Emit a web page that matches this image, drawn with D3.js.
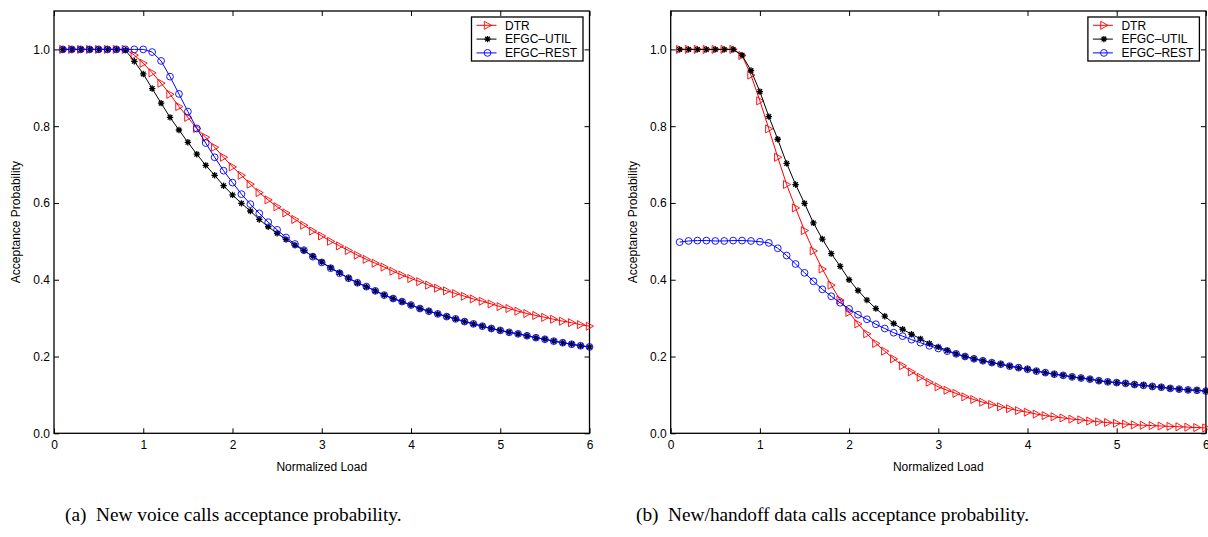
<!DOCTYPE html>
<html>
<head>
<meta charset="utf-8">
<script src="https://cdn.jsdelivr.net/npm/d3@7"></script>
<style>
body{margin:0;background:#fff}
svg text{font-family:"Liberation Sans",Arial,Helvetica,sans-serif}
.caption{font-family:"Liberation Serif","Times New Roman",serif;font-size:19.3px;white-space:pre}
</style>
</head>
<body>
<svg id="fig" width="1208" height="537"></svg>
<script>
// normalized load values (x)
var loads = [0.1,0.2,0.3,0.4,0.5,0.6,0.7,0.8,0.9,1.0,
             1.1,1.2,1.3,1.4,1.5,1.6,1.7,1.8,1.9,2.0,
             2.1,2.2,2.3,2.4,2.5,2.6,2.7,2.8,2.9,3.0,
             3.1,3.2,3.3,3.4,3.5,3.6,3.7,3.8,3.9,4.0,
             4.1,4.2,4.3,4.4,4.5,4.6,4.7,4.8,4.9,5.0,
             5.1,5.2,5.3,5.4,5.5,5.6,5.7,5.8,5.9,6.0]

// (a) new voice calls
var voiceDTR = [1.0,1.0,1.0,1.0,1.0,1.0,1.0,1.0,0.985,0.964,
                0.939,0.912,0.883,0.851,0.823,0.794,0.771,0.745,0.719,0.694,
                0.672,0.649,0.627,0.608,0.590,0.574,0.557,0.542,0.527,0.514,
                0.500,0.488,0.476,0.464,0.453,0.443,0.433,0.422,0.412,0.403,
                0.395,0.386,0.378,0.371,0.364,0.357,0.350,0.344,0.337,0.330,
                0.325,0.318,0.312,0.307,0.302,0.297,0.292,0.288,0.283,0.279]
var voiceUTIL = [1.0,1.0,1.0,1.0,1.0,1.0,1.0,0.998,0.969,0.936,
                 0.898,0.860,0.823,0.790,0.758,0.727,0.698,0.672,0.645,0.621,
                 0.599,0.579,0.557,0.538,0.521,0.505,0.490,0.476,0.461,0.446,
                 0.431,0.418,0.404,0.392,0.382,0.371,0.360,0.351,0.343,0.334,
                 0.325,0.318,0.311,0.304,0.298,0.291,0.285,0.279,0.273,0.268,
                 0.263,0.259,0.254,0.249,0.245,0.240,0.236,0.232,0.228,0.225]
var voiceREST = [1.0,1.0,1.0,1.0,1.0,1.0,1.0,1.0,1.0,1.0,
                 0.993,0.970,0.929,0.884,0.838,0.794,0.756,0.719,0.684,0.653,
                 0.623,0.597,0.573,0.550,0.530,0.510,0.493,0.477,0.460,0.445,
                 0.430,0.417,0.404,0.392,0.382,0.371,0.360,0.351,0.343,0.334,
                 0.325,0.318,0.311,0.304,0.298,0.291,0.285,0.279,0.273,0.268,
                 0.263,0.259,0.254,0.249,0.245,0.240,0.236,0.232,0.228,0.225]

// (b) new/handoff data calls
var dataDTR = [1.0,1.0,1.0,1.0,1.0,1.0,1.0,0.984,0.933,0.866,
               0.793,0.719,0.648,0.587,0.528,0.475,0.428,0.386,0.347,0.315,
               0.285,0.259,0.234,0.214,0.194,0.176,0.160,0.146,0.133,0.121,
               0.112,0.104,0.095,0.088,0.081,0.075,0.069,0.064,0.059,0.055,
               0.050,0.046,0.043,0.040,0.037,0.035,0.032,0.030,0.028,0.026,
               0.024,0.022,0.021,0.020,0.019,0.018,0.017,0.016,0.015,0.014]
var dataUTIL = [1.0,1.0,1.0,1.0,1.0,1.0,1.0,0.985,0.945,0.890,
                0.825,0.766,0.703,0.648,0.599,0.548,0.506,0.468,0.435,0.400,
                0.372,0.347,0.325,0.305,0.286,0.271,0.258,0.246,0.234,0.225,
                0.216,0.207,0.200,0.194,0.189,0.184,0.180,0.175,0.171,0.167,
                0.162,0.158,0.154,0.151,0.147,0.144,0.141,0.137,0.134,0.132,
                0.130,0.127,0.125,0.122,0.120,0.117,0.115,0.113,0.112,0.110]
var dataREST = [0.498,0.501,0.502,0.502,0.501,0.501,0.502,0.502,0.501,0.499,
                0.496,0.482,0.463,0.441,0.418,0.396,0.375,0.357,0.340,0.324,
                0.309,0.297,0.284,0.273,0.262,0.253,0.244,0.236,0.228,0.221,
                0.214,0.207,0.200,0.194,0.189,0.184,0.180,0.175,0.171,0.167,
                0.162,0.158,0.154,0.151,0.147,0.144,0.141,0.137,0.134,0.132,
                0.130,0.127,0.125,0.122,0.120,0.117,0.115,0.113,0.112,0.110]

var xTicks = [0,1,2,3,4,5,6]
var yTicks = [0,0.2,0.4,0.6,0.8,1.0]
var seriesNames = ["DTR","EFGC\u2013UTIL","EFGC\u2013REST"]
var seriesColors = ["#ff0000","#000000","#0000ff"]
var seriesMarkers = ["tri","star","circle"]
var xLabel = "Normalized Load"
var yLabel = "Acceptance Probability"
var captions = ["(a)  New voice calls acceptance probability.",
                "(b)  New/handoff data calls acceptance probability."]

var svg = d3.select("#fig")
svg.append("rect").attr("width",1208).attr("height",537).attr("fill","#fff")

// marker shapes
var markerPath = {
    tri:"M-3.2,-4L4,0L-3.2,4Z",
    star:"M-3.2,0H3.2M0,-3.2V3.2M-2.3,-2.3L2.3,2.3M-2.3,2.3L2.3,-2.3",
    circle:"M3.4,0A3.4,3.4 0 1 1 -3.4,0A3.4,3.4 0 1 1 3.4,0Z"
}

var drawPanel = function(box, seriesValues, caption){
    var xScale = d3.scaleLinear().domain([0,6]).range([box.left,box.right])
    var yScale = d3.scaleLinear().domain([0,1.1]).range([box.bottom,box.top])

    var g = svg.append("g")

    // axes with ticks inside the box
    var bottom = g.append("g")
        .attr("transform","translate(0,"+box.bottom+")")
        .call(d3.axisBottom(xScale).tickValues(xTicks).tickSizeInner(-5).tickSizeOuter(0).tickPadding(7).tickFormat(d3.format("d")))
    var top = g.append("g")
        .attr("transform","translate(0,"+box.top+")")
        .call(d3.axisTop(xScale).tickValues(xTicks).tickSizeInner(-5).tickSizeOuter(0).tickFormat(""))
    var left = g.append("g")
        .attr("transform","translate("+box.left+",0)")
        .call(d3.axisLeft(yScale).tickValues(yTicks).tickSizeInner(-5).tickSizeOuter(0).tickPadding(4).tickFormat(d3.format(".1f")))
    var right = g.append("g")
        .attr("transform","translate("+box.right+",0)")
        .call(d3.axisRight(yScale).tickValues(yTicks).tickSizeInner(-5).tickSizeOuter(0).tickFormat(""))

    ;[bottom,top,left,right].forEach(function(a){
        a.select(".domain").remove()
        a.selectAll("line").attr("stroke","#000").attr("stroke-width",1)
        a.selectAll("text").attr("font-size",12).attr("fill","#000")
            .attr("font-family","'Liberation Sans',Arial,sans-serif")
    })

    g.append("rect")
        .attr("x",box.left).attr("y",box.top)
        .attr("width",box.right-box.left).attr("height",box.bottom-box.top)
        .attr("fill","none").attr("stroke","#000").attr("stroke-width",1.3)

    // series
    var line = d3.line()
        .x(function(d){return xScale(d[0])})
        .y(function(d){return yScale(d[1])})

    seriesValues.forEach(function(vals,i){
        var pts = loads.map(function(x,j){return [x,vals[j]]})
        var s = g.append("g")
        s.append("path")
            .attr("d",line(pts))
            .attr("fill","none")
            .attr("stroke",seriesColors[i])
            .attr("stroke-width",1)
        s.selectAll("path.mk")
            .data(pts)
            .enter()
            .append("path")
            .classed("mk",true)
            .attr("d",markerPath[seriesMarkers[i]])
            .attr("transform",function(d){return "translate("+xScale(d[0])+","+yScale(d[1])+")"})
            .attr("fill","none")
            .attr("stroke",seriesColors[i])
            .attr("stroke-width",seriesMarkers[i]=="star"?1.3:0.9)
    })

    // labels
    g.append("text")
        .text(xLabel)
        .attr("x",(box.left+box.right)/2)
        .attr("y",470.5)
        .attr("text-anchor","middle")
        .attr("font-size",12)
    g.append("text")
        .text(yLabel)
        .attr("transform","translate("+(box.left-34)+","+((box.top+box.bottom)/2)+") rotate(-90)")
        .attr("text-anchor","middle")
        .attr("font-size",12)

    // legend
    var lx = box.right-118, ly = 17
    var legend = g.append("g").attr("transform","translate("+lx+","+ly+")")
    legend.append("rect")
        .attr("width",111.5).attr("height",44)
        .attr("fill","#fff").attr("stroke","#000").attr("stroke-width",1.3)
    var entries = legend.selectAll("g")
        .data(seriesNames)
        .enter()
        .append("g")
        .attr("transform",function(d,i){return "translate(0,"+(8.3+i*13.8)+")"})
    entries.append("line")
        .attr("x1",5).attr("x2",25)
        .attr("stroke",function(d,i){return seriesColors[i]})
        .attr("stroke-width",1)
    entries.append("path")
        .attr("d",function(d,i){return markerPath[seriesMarkers[i]]})
        .attr("transform","translate(16,0)")
        .attr("fill","none")
        .attr("stroke",function(d,i){return seriesColors[i]})
        .attr("stroke-width",function(d,i){return seriesMarkers[i]=="star"?1.3:0.9})
    entries.append("text")
        .text(function(d){return d})
        .attr("x",33.5)
        .attr("y",4.3)
        .attr("font-size",12)

    svg.append("text")
        .classed("caption",true)
        .text(caption)
        .attr("x",box.capX)
        .attr("y",521)
}

drawPanel({left:54,right:589.5,top:11,bottom:433.3,capX:65},
          [voiceDTR,voiceUTIL,voiceREST], captions[0])
drawPanel({left:670.7,right:1205.9,top:11,bottom:433.3,capX:636},
          [dataDTR,dataUTIL,dataREST], captions[1])
</script>
</body>
</html>
